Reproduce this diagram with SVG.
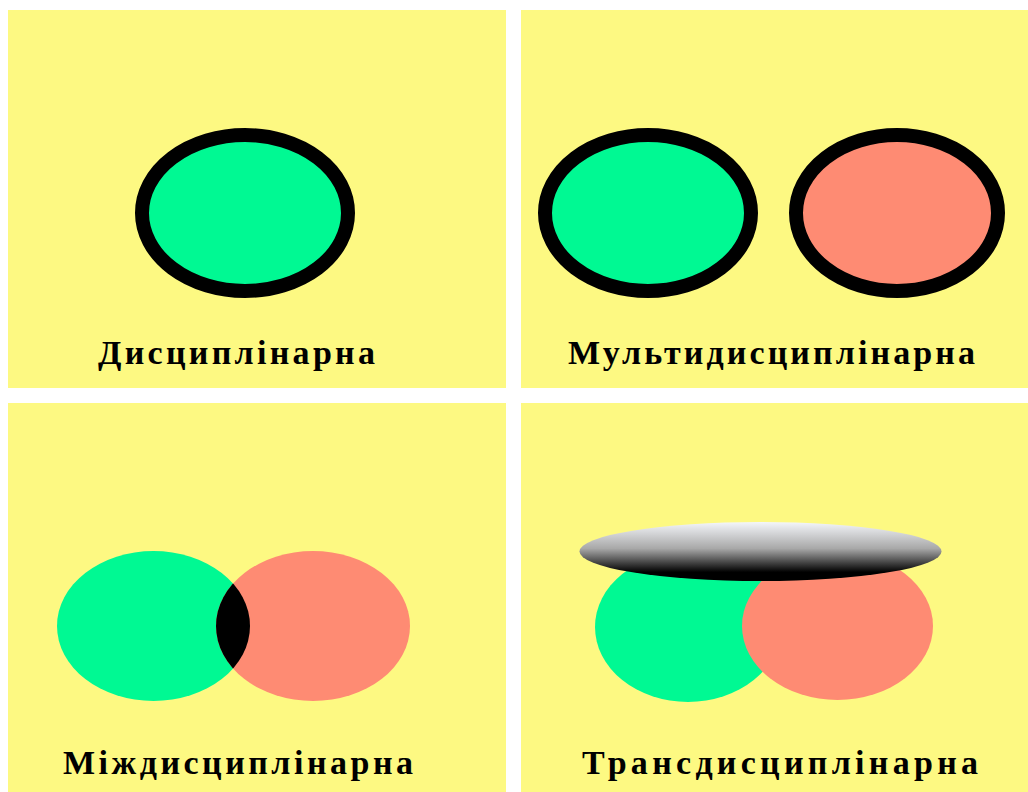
<svg xmlns="http://www.w3.org/2000/svg" width="1028" height="792" viewBox="0 0 1028 792">
<style>
.panel{fill:#FDF982}
.green{fill:#00F993}
.red{fill:#FE8B73}
.ring{stroke:#000;stroke-width:14}
.label{font-family:"Liberation Serif","Times New Roman",serif;font-weight:bold;font-size:34px;fill:#000}
</style>
<defs>
<linearGradient id="disk" x1="0" y1="0" x2="0" y2="1">
<stop offset="0" stop-color="#F4F6FA"/>
<stop offset="0.45" stop-color="#A8A8A8"/>
<stop offset="0.85" stop-color="#000"/>
<stop offset="1" stop-color="#000"/>
</linearGradient>
<clipPath id="redClip"><ellipse cx="313" cy="626" rx="97" ry="75"/></clipPath>
</defs>
<rect width="1028" height="792" fill="#fff"/>
<g id="disciplinary">
<rect class="panel" x="8" y="10" width="498" height="378"/>
<ellipse class="green ring" cx="245" cy="213" rx="103" ry="78"/>
<text class="label" x="98" y="364" textLength="277" lengthAdjust="spacing">Дисциплінарна</text>
</g>
<g id="multidisciplinary">
<rect class="panel" x="521" y="10" width="507" height="378"/>
<ellipse class="green ring" cx="648" cy="213" rx="103" ry="78"/>
<ellipse class="red ring" cx="897" cy="213" rx="101" ry="78"/>
<text class="label" x="568" y="364" textLength="407" lengthAdjust="spacing">Мультидисциплінарна</text>
</g>
<g id="interdisciplinary">
<rect class="panel" x="8" y="403" width="498" height="389"/>
<ellipse class="green" cx="153.5" cy="626" rx="96.5" ry="75"/>
<ellipse class="red" cx="313" cy="626" rx="97" ry="75"/>
<ellipse cx="153.5" cy="626" rx="96.5" ry="75" fill="#000" clip-path="url(#redClip)"/>
<text class="label" x="63" y="774" textLength="350" lengthAdjust="spacing">Міждисциплінарна</text>
</g>
<g id="transdisciplinary">
<rect class="panel" x="521" y="403" width="507" height="389"/>
<ellipse class="green" cx="688" cy="627" rx="93" ry="75"/>
<ellipse class="red" cx="837.5" cy="626" rx="95.5" ry="74"/>
<ellipse cx="760.5" cy="551.5" rx="181" ry="29.5" fill="url(#disk)"/>
<text class="label" x="582" y="774" textLength="396" lengthAdjust="spacing">Трансдисциплінарна</text>
</g>
<g id="connectors"/>
</svg>
